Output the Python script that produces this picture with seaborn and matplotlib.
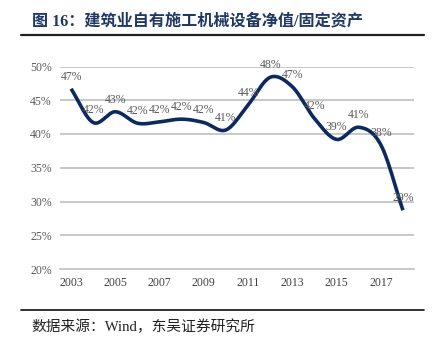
import numpy as np
import matplotlib
matplotlib.use("Agg")
import matplotlib.pyplot as plt
import seaborn as sns
import pandas as pd

years = [2003, 2004, 2005, 2006, 2007, 2008, 2009, 2010, 2011, 2012, 2013, 2014, 2015, 2016, 2017, 2018]
values = [46.7, 41.7, 43.3, 41.6, 41.8, 42.2, 41.7, 40.6, 44.3, 48.4, 47.0, 42.3, 39.2, 41.0, 38.4, 28.7]
labels = ["47%", "42%", "43%", "42%", "42%", "42%", "42%", "41%", "44%", "48%", "47%", "42%", "39%", "41%", "38%", "29%"]
ytick_vals = [20, 25, 30, 35, 40, 45, 50]
title = "图 16：建筑业自有施工机械设备净值/固定资产"
source = "数据来源：Wind，东吴证券研究所"

sns.set_theme(style="white")
plt.rcParams['font.family'] = ['Liberation Serif', 'Noto Sans CJK SC', 'DejaVu Sans']

fig = plt.figure(figsize=(4.36, 3.45), dpi=100)
ax = fig.add_axes([60/436, 1-269/345, (414-60)/436, (269-66.5)/345])

# smooth line (Catmull-Rom through the data points, like Excel smoothing)
x = np.arange(len(values), dtype=float)
y = np.array(values, dtype=float)
px = np.concatenate([[2*x[0]-x[1]], x, [2*x[-1]-x[-2]]])
py = np.concatenate([[2*y[0]-y[1]], y, [2*y[-1]-y[-2]]])
xs, ys = [], []
t = np.linspace(0, 1, 30)
for i in range(1, len(px)-2):
    p0, p1, p2, p3 = py[i-1], py[i], py[i+1], py[i+2]
    q0, q1, q2, q3 = px[i-1], px[i], px[i+1], px[i+2]
    f = lambda a, b, c, d: 0.5*((2*b) + (-a+c)*t + (2*a-5*b+4*c-d)*t**2 + (-a+3*b-3*c+d)*t**3)
    xs.append(f(q0, q1, q2, q3)); ys.append(f(p0, p1, p2, p3))
df = pd.DataFrame({"x": np.concatenate(xs), "y": np.concatenate(ys)})
sns.lineplot(data=df, x="x", y="y", ax=ax, color="#0c2a5e", linewidth=2.6, sort=False,
             solid_capstyle="butt", zorder=3)

for xi, yi, lab in zip(x, y, labels):
    ax.text(xi, yi + 0.9, lab, ha="center", va="bottom", fontsize=8.5, color="#595959",
            family="Liberation Serif", zorder=4)

ax.set_xlim(-0.5, len(values)-0.5)
ax.set_ylim(20, 50)
ax.set_yticks(ytick_vals)
ax.set_yticklabels([f"{v}%" for v in ytick_vals])
for v in ytick_vals[1:]:
    ax.axhline(v, color="#bfbfbf", linewidth=1.2, zorder=1)
ax.set_xticks(x[::2])
ax.set_xticklabels([str(yv) for yv in years[::2]])
ax.set_xticks(np.arange(-0.5, len(values), 2), minor=True)
ax.tick_params(axis="x", which="major", length=0, pad=6, labelsize=8.5, labelcolor="#404040")
ax.tick_params(axis="x", which="minor", length=3, color="#bfbfbf", width=1, direction="out")
ax.tick_params(axis="y", length=0, pad=6, labelsize=8.5, labelcolor="#595959")
ax.set_xlabel("")
ax.set_ylabel("")
for s in ["top", "right", "left"]:
    ax.spines[s].set_visible(False)
ax.spines["bottom"].set_color("#bfbfbf")
ax.spines["bottom"].set_linewidth(1.2)

fig.text(32/436, 1-21.5/345, title, fontsize=11.6, fontweight="bold", color="#1f3864",
         ha="left", va="center", family=['Liberation Serif', 'Noto Sans CJK SC'])
fig.add_artist(plt.Line2D([21/436, 424/436], [1-34.5/345, 1-34.5/345], color="#222222", linewidth=1.6))
fig.add_artist(plt.Line2D([21/436, 424/436], [1-310/345, 1-310/345], color="#222222", linewidth=1.3))
fig.text(31/436, 1-327/345, source, fontsize=10.6, color="#222222", ha="left", va="center",
         family=['Liberation Serif', 'Noto Sans CJK SC'])

fig.savefig("out.png", dpi=100)
